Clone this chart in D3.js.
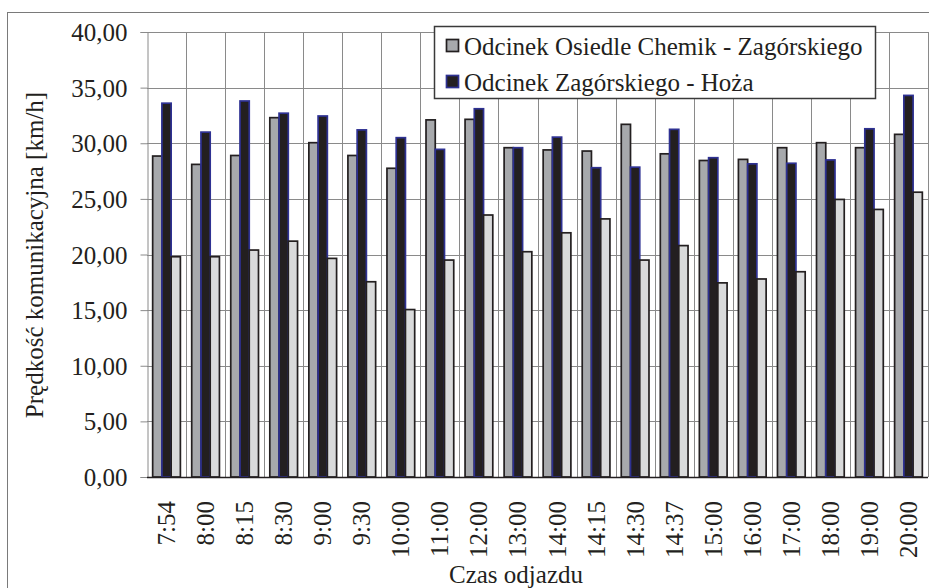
<!DOCTYPE html>
<html>
<head>
<meta charset="utf-8">
<script src="https://cdn.jsdelivr.net/npm/d3@7"></script>
<style>
  html, body { margin: 0; padding: 0; background: #fff; }
  svg { display: block; }
  text { font-family: "Liberation Serif", "Times New Roman", serif; fill: #231f20; }
</style>
</head>
<body>
<svg id="chart" width="929" height="588"></svg>
<script>
// Departure times (category axis)
const categories = ["7:54","8:00","8:15","8:30","9:00","9:30","10:00","11:00","12:00","13:00",
                    "14:00","14:15","14:30","14:37","15:00","16:00","17:00","18:00","19:00","20:00"];

// Travel speed [km/h] per section
const seriesNames = ["Odcinek Osiedle Chemik - Zagórskiego", "Odcinek Zagórskiego - Hoża", "Odcinek trzeci"];
const chemikZagorskiego = [28.85, 28.1, 28.9, 32.3, 30.05, 28.9, 27.75, 32.1, 32.15, 29.6,
                           29.4, 29.3, 31.7, 29.05, 28.45, 28.55, 29.6, 30.05, 29.6, 30.8];
const zagorskiegoHoza   = [33.6, 31.0, 33.8, 32.7, 32.45, 31.2, 30.5, 29.45, 33.1, 29.6,
                           30.55, 27.8, 27.85, 31.25, 28.7, 28.15, 28.2, 28.5, 31.3, 34.3];
const trzeciOdcinek     = [19.8, 19.8, 20.4, 21.2, 19.65, 17.55, 15.05, 19.5, 23.55, 20.25,
                           21.95, 23.2, 19.5, 20.8, 17.45, 17.8, 18.45, 24.95, 24.05, 25.6];

const yTicks = [0, 5, 10, 15, 20, 25, 30, 35, 40];
const legendEntries = [0, 1]; // series shown in the legend

const fills   = ["#a7a9ac", "#231f20", "#d9dadb"];
const strokes = ["#231f20", "#2e3192", "#231f20"];

const svg = d3.select("#chart");
const plot = { left: 147, right: 928, top: 32, bottom: 477 };

// Outer chart frame
svg.append("rect")
  .attr("x", 7.5).attr("y", 12.5).attr("width", 960).attr("height", 620)
  .attr("fill", "none").attr("stroke", "#7a7a7a").attr("stroke-width", 1);

const x0 = d3.scaleBand().domain(categories)
  .range([plot.left, plot.right]).paddingInner(0.29).paddingOuter(0.145);
const x1 = d3.scaleBand().domain([0, 1, 2]).range([0, x0.bandwidth()]);
const y = d3.scaleLinear().domain([0, 40]).range([plot.bottom, plot.top]);

// Horizontal gridlines
svg.append("g").selectAll("line").data(yTicks.filter(d => d > 0)).join("line")
  .attr("x1", plot.left).attr("x2", plot.right)
  .attr("y1", d => Math.round(y(d)) + 0.5).attr("y2", d => Math.round(y(d)) + 0.5)
  .attr("stroke", "#8a8a8a").attr("stroke-width", 1);

// Vertical gridlines at category boundaries
const step = x0.step();
const bounds = d3.range(1, categories.length + 1).map(i => plot.left + i * step);
svg.append("g").selectAll("line").data(bounds).join("line")
  .attr("x1", d => Math.round(d) + 0.5).attr("x2", d => Math.round(d) + 0.5)
  .attr("y1", plot.top).attr("y2", plot.bottom)
  .attr("stroke", "#8a8a8a").attr("stroke-width", 1);

// Y axis
const yAxis = d3.axisLeft(y).tickValues(yTicks).tickSize(7).tickPadding(13)
  .tickFormat(d => d3.format(".2f")(d).replace(".", ","));
const gy = svg.append("g").attr("transform", `translate(${plot.left + 0.5},0)`).call(yAxis);
gy.select(".domain").attr("stroke", "#8a8a8a");
gy.selectAll(".tick line").attr("stroke", "#8a8a8a");
gy.selectAll(".tick text")
  .attr("font-size", 25).attr("font-family", "Liberation Serif, Times New Roman, serif")
  .attr("fill", "#231f20").attr("dy", "0.34em");

// Bars
const series = [chemikZagorskiego, zagorskiegoHoza, trzeciOdcinek];
series.forEach((vals, s) => {
  svg.append("g").selectAll("rect").data(vals).join("rect")
    .attr("x", (d, i) => x0(categories[i]) + x1(s))
    .attr("width", x1.bandwidth())
    .attr("y", d => y(d))
    .attr("height", d => plot.bottom - y(d))
    .attr("fill", fills[s])
    .attr("stroke", strokes[s])
    .attr("stroke-width", 1.7);
});

// X axis line
svg.append("line")
  .attr("x1", plot.left).attr("x2", plot.right)
  .attr("y1", plot.bottom + 0.5).attr("y2", plot.bottom + 0.5)
  .attr("stroke", "#231f20").attr("stroke-width", 1.5);

// Category labels (rotated)
svg.append("g").selectAll("text").data(categories).join("text")
  .attr("transform", d => `translate(${x0(d) + x0.bandwidth() / 2},501) rotate(-90)`)
  .attr("text-anchor", "end").attr("dy", "0.34em")
  .attr("font-size", 25)
  .text(d => d);

// Axis titles
svg.append("text")
  .attr("x", 516).attr("y", 583)
  .attr("text-anchor", "middle").attr("font-size", 25)
  .text("Czas odjazdu");

svg.append("text")
  .attr("transform", `translate(43,255) rotate(-90)`)
  .attr("text-anchor", "middle").attr("font-size", 25)
  .text("Prędkość komunikacyjna [km/h]");

// Legend
const lg = svg.append("g");
lg.append("rect")
  .attr("x", 434.5).attr("y", 26.5).attr("width", 441).attr("height", 72)
  .attr("fill", "#fff").attr("stroke", "#3a3a3a").attr("stroke-width", 1.5);
legendEntries.forEach((s, i) => {
  const rowY = 39 + i * 36;
  lg.append("rect")
    .attr("x", 446.5).attr("y", rowY + 0.5).attr("width", 12).attr("height", 12)
    .attr("fill", fills[s]).attr("stroke", strokes[s]).attr("stroke-width", 1.7);
  lg.append("text")
    .attr("x", 464).attr("y", rowY + 15.5)
    .attr("font-size", 25)
    .text(seriesNames[s]);
});
</script>
</body>
</html>
